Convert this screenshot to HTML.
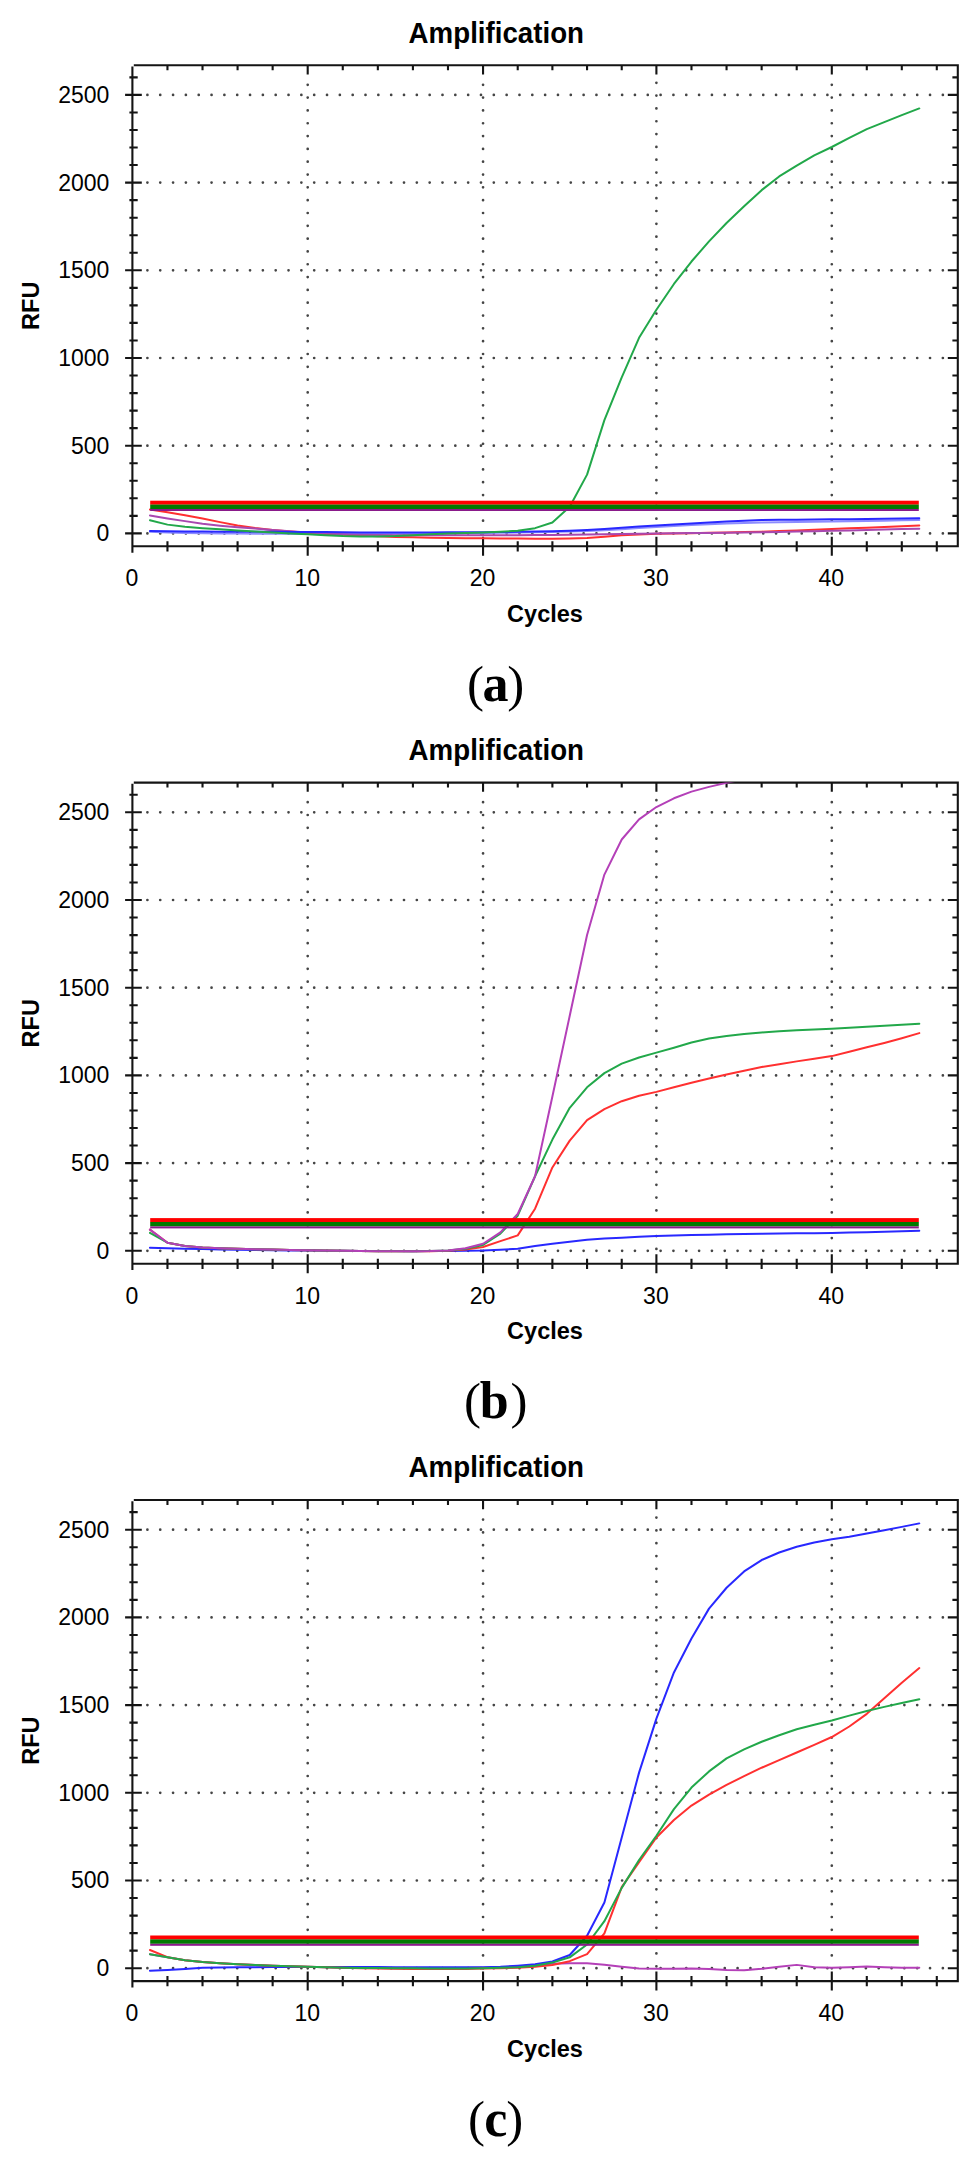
<!DOCTYPE html>
<html><head><meta charset="utf-8"><style>
html,body{margin:0;padding:0;background:#fff;}
svg{display:block;font-family:"Liberation Sans",sans-serif;}
</style></head><body>
<svg width="974" height="2164" viewBox="0 0 974 2164">
<defs><clipPath id="clip0"><rect x="132.4" y="65.2" width="825.4" height="481.09999999999997"/></clipPath><clipPath id="clip1"><rect x="132.4" y="782.6" width="825.4" height="481.09999999999997"/></clipPath><clipPath id="clip2"><rect x="132.4" y="1500.0" width="825.4" height="481.09999999999997"/></clipPath></defs>
<rect width="974" height="2164" fill="#fff"/>
<g>
<text x="408.6" y="42.6" font-weight="bold" font-size="29.6" textLength="175.4" lengthAdjust="spacingAndGlyphs">Amplification</text>
<text transform="translate(39.3,305.8) rotate(-90)" text-anchor="middle" font-weight="bold" font-size="23.6">RFU</text>
<text x="545" y="621.8" text-anchor="middle" font-weight="bold" font-size="23.5">Cycles</text>
<text x="109.3" y="541.3" text-anchor="end" font-size="23">0</text>
<text x="109.3" y="453.6" text-anchor="end" font-size="23">500</text>
<text x="109.3" y="365.9" text-anchor="end" font-size="23">1000</text>
<text x="109.3" y="278.2" text-anchor="end" font-size="23">1500</text>
<text x="109.3" y="190.5" text-anchor="end" font-size="23">2000</text>
<text x="109.3" y="102.8" text-anchor="end" font-size="23">2500</text>
<text x="131.9" y="586.2" text-anchor="middle" font-size="23">0</text>
<text x="307.2" y="586.2" text-anchor="middle" font-size="23">10</text>
<text x="482.6" y="586.2" text-anchor="middle" font-size="23">20</text>
<text x="655.9" y="586.2" text-anchor="middle" font-size="23">30</text>
<text x="831.3" y="586.2" text-anchor="middle" font-size="23">40</text>
<path d="M147.40 533.40h0.01M160.23 533.40h0.01M173.06 533.40h0.01M185.89 533.40h0.01M198.72 533.40h0.01M211.55 533.40h0.01M224.38 533.40h0.01M237.21 533.40h0.01M250.04 533.40h0.01M262.87 533.40h0.01M275.70 533.40h0.01M288.53 533.40h0.01M301.36 533.40h0.01M314.19 533.40h0.01M327.02 533.40h0.01M339.85 533.40h0.01M352.68 533.40h0.01M365.51 533.40h0.01M378.34 533.40h0.01M391.17 533.40h0.01M404.00 533.40h0.01M416.83 533.40h0.01M429.66 533.40h0.01M442.49 533.40h0.01M455.32 533.40h0.01M468.15 533.40h0.01M480.98 533.40h0.01M493.81 533.40h0.01M506.64 533.40h0.01M519.47 533.40h0.01M532.30 533.40h0.01M545.13 533.40h0.01M557.96 533.40h0.01M570.79 533.40h0.01M583.62 533.40h0.01M596.45 533.40h0.01M609.28 533.40h0.01M622.11 533.40h0.01M634.94 533.40h0.01M647.77 533.40h0.01M660.60 533.40h0.01M673.43 533.40h0.01M686.26 533.40h0.01M699.09 533.40h0.01M711.92 533.40h0.01M724.75 533.40h0.01M737.58 533.40h0.01M750.41 533.40h0.01M763.24 533.40h0.01M776.07 533.40h0.01M788.90 533.40h0.01M801.73 533.40h0.01M814.56 533.40h0.01M827.39 533.40h0.01M840.22 533.40h0.01M853.05 533.40h0.01M865.88 533.40h0.01M878.71 533.40h0.01M891.54 533.40h0.01M904.37 533.40h0.01M917.20 533.40h0.01M930.03 533.40h0.01M942.86 533.40h0.01M147.40 445.70h0.01M160.23 445.70h0.01M173.06 445.70h0.01M185.89 445.70h0.01M198.72 445.70h0.01M211.55 445.70h0.01M224.38 445.70h0.01M237.21 445.70h0.01M250.04 445.70h0.01M262.87 445.70h0.01M275.70 445.70h0.01M288.53 445.70h0.01M301.36 445.70h0.01M314.19 445.70h0.01M327.02 445.70h0.01M339.85 445.70h0.01M352.68 445.70h0.01M365.51 445.70h0.01M378.34 445.70h0.01M391.17 445.70h0.01M404.00 445.70h0.01M416.83 445.70h0.01M429.66 445.70h0.01M442.49 445.70h0.01M455.32 445.70h0.01M468.15 445.70h0.01M480.98 445.70h0.01M493.81 445.70h0.01M506.64 445.70h0.01M519.47 445.70h0.01M532.30 445.70h0.01M545.13 445.70h0.01M557.96 445.70h0.01M570.79 445.70h0.01M583.62 445.70h0.01M596.45 445.70h0.01M609.28 445.70h0.01M622.11 445.70h0.01M634.94 445.70h0.01M647.77 445.70h0.01M660.60 445.70h0.01M673.43 445.70h0.01M686.26 445.70h0.01M699.09 445.70h0.01M711.92 445.70h0.01M724.75 445.70h0.01M737.58 445.70h0.01M750.41 445.70h0.01M763.24 445.70h0.01M776.07 445.70h0.01M788.90 445.70h0.01M801.73 445.70h0.01M814.56 445.70h0.01M827.39 445.70h0.01M840.22 445.70h0.01M853.05 445.70h0.01M865.88 445.70h0.01M878.71 445.70h0.01M891.54 445.70h0.01M904.37 445.70h0.01M917.20 445.70h0.01M930.03 445.70h0.01M942.86 445.70h0.01M147.40 358.00h0.01M160.23 358.00h0.01M173.06 358.00h0.01M185.89 358.00h0.01M198.72 358.00h0.01M211.55 358.00h0.01M224.38 358.00h0.01M237.21 358.00h0.01M250.04 358.00h0.01M262.87 358.00h0.01M275.70 358.00h0.01M288.53 358.00h0.01M301.36 358.00h0.01M314.19 358.00h0.01M327.02 358.00h0.01M339.85 358.00h0.01M352.68 358.00h0.01M365.51 358.00h0.01M378.34 358.00h0.01M391.17 358.00h0.01M404.00 358.00h0.01M416.83 358.00h0.01M429.66 358.00h0.01M442.49 358.00h0.01M455.32 358.00h0.01M468.15 358.00h0.01M480.98 358.00h0.01M493.81 358.00h0.01M506.64 358.00h0.01M519.47 358.00h0.01M532.30 358.00h0.01M545.13 358.00h0.01M557.96 358.00h0.01M570.79 358.00h0.01M583.62 358.00h0.01M596.45 358.00h0.01M609.28 358.00h0.01M622.11 358.00h0.01M634.94 358.00h0.01M647.77 358.00h0.01M660.60 358.00h0.01M673.43 358.00h0.01M686.26 358.00h0.01M699.09 358.00h0.01M711.92 358.00h0.01M724.75 358.00h0.01M737.58 358.00h0.01M750.41 358.00h0.01M763.24 358.00h0.01M776.07 358.00h0.01M788.90 358.00h0.01M801.73 358.00h0.01M814.56 358.00h0.01M827.39 358.00h0.01M840.22 358.00h0.01M853.05 358.00h0.01M865.88 358.00h0.01M878.71 358.00h0.01M891.54 358.00h0.01M904.37 358.00h0.01M917.20 358.00h0.01M930.03 358.00h0.01M942.86 358.00h0.01M147.40 270.30h0.01M160.23 270.30h0.01M173.06 270.30h0.01M185.89 270.30h0.01M198.72 270.30h0.01M211.55 270.30h0.01M224.38 270.30h0.01M237.21 270.30h0.01M250.04 270.30h0.01M262.87 270.30h0.01M275.70 270.30h0.01M288.53 270.30h0.01M301.36 270.30h0.01M314.19 270.30h0.01M327.02 270.30h0.01M339.85 270.30h0.01M352.68 270.30h0.01M365.51 270.30h0.01M378.34 270.30h0.01M391.17 270.30h0.01M404.00 270.30h0.01M416.83 270.30h0.01M429.66 270.30h0.01M442.49 270.30h0.01M455.32 270.30h0.01M468.15 270.30h0.01M480.98 270.30h0.01M493.81 270.30h0.01M506.64 270.30h0.01M519.47 270.30h0.01M532.30 270.30h0.01M545.13 270.30h0.01M557.96 270.30h0.01M570.79 270.30h0.01M583.62 270.30h0.01M596.45 270.30h0.01M609.28 270.30h0.01M622.11 270.30h0.01M634.94 270.30h0.01M647.77 270.30h0.01M660.60 270.30h0.01M673.43 270.30h0.01M686.26 270.30h0.01M699.09 270.30h0.01M711.92 270.30h0.01M724.75 270.30h0.01M737.58 270.30h0.01M750.41 270.30h0.01M763.24 270.30h0.01M776.07 270.30h0.01M788.90 270.30h0.01M801.73 270.30h0.01M814.56 270.30h0.01M827.39 270.30h0.01M840.22 270.30h0.01M853.05 270.30h0.01M865.88 270.30h0.01M878.71 270.30h0.01M891.54 270.30h0.01M904.37 270.30h0.01M917.20 270.30h0.01M930.03 270.30h0.01M942.86 270.30h0.01M147.40 182.60h0.01M160.23 182.60h0.01M173.06 182.60h0.01M185.89 182.60h0.01M198.72 182.60h0.01M211.55 182.60h0.01M224.38 182.60h0.01M237.21 182.60h0.01M250.04 182.60h0.01M262.87 182.60h0.01M275.70 182.60h0.01M288.53 182.60h0.01M301.36 182.60h0.01M314.19 182.60h0.01M327.02 182.60h0.01M339.85 182.60h0.01M352.68 182.60h0.01M365.51 182.60h0.01M378.34 182.60h0.01M391.17 182.60h0.01M404.00 182.60h0.01M416.83 182.60h0.01M429.66 182.60h0.01M442.49 182.60h0.01M455.32 182.60h0.01M468.15 182.60h0.01M480.98 182.60h0.01M493.81 182.60h0.01M506.64 182.60h0.01M519.47 182.60h0.01M532.30 182.60h0.01M545.13 182.60h0.01M557.96 182.60h0.01M570.79 182.60h0.01M583.62 182.60h0.01M596.45 182.60h0.01M609.28 182.60h0.01M622.11 182.60h0.01M634.94 182.60h0.01M647.77 182.60h0.01M660.60 182.60h0.01M673.43 182.60h0.01M686.26 182.60h0.01M699.09 182.60h0.01M711.92 182.60h0.01M724.75 182.60h0.01M737.58 182.60h0.01M750.41 182.60h0.01M763.24 182.60h0.01M776.07 182.60h0.01M788.90 182.60h0.01M801.73 182.60h0.01M814.56 182.60h0.01M827.39 182.60h0.01M840.22 182.60h0.01M853.05 182.60h0.01M865.88 182.60h0.01M878.71 182.60h0.01M891.54 182.60h0.01M904.37 182.60h0.01M917.20 182.60h0.01M930.03 182.60h0.01M942.86 182.60h0.01M147.40 94.90h0.01M160.23 94.90h0.01M173.06 94.90h0.01M185.89 94.90h0.01M198.72 94.90h0.01M211.55 94.90h0.01M224.38 94.90h0.01M237.21 94.90h0.01M250.04 94.90h0.01M262.87 94.90h0.01M275.70 94.90h0.01M288.53 94.90h0.01M301.36 94.90h0.01M314.19 94.90h0.01M327.02 94.90h0.01M339.85 94.90h0.01M352.68 94.90h0.01M365.51 94.90h0.01M378.34 94.90h0.01M391.17 94.90h0.01M404.00 94.90h0.01M416.83 94.90h0.01M429.66 94.90h0.01M442.49 94.90h0.01M455.32 94.90h0.01M468.15 94.90h0.01M480.98 94.90h0.01M493.81 94.90h0.01M506.64 94.90h0.01M519.47 94.90h0.01M532.30 94.90h0.01M545.13 94.90h0.01M557.96 94.90h0.01M570.79 94.90h0.01M583.62 94.90h0.01M596.45 94.90h0.01M609.28 94.90h0.01M622.11 94.90h0.01M634.94 94.90h0.01M647.77 94.90h0.01M660.60 94.90h0.01M673.43 94.90h0.01M686.26 94.90h0.01M699.09 94.90h0.01M711.92 94.90h0.01M724.75 94.90h0.01M737.58 94.90h0.01M750.41 94.90h0.01M763.24 94.90h0.01M776.07 94.90h0.01M788.90 94.90h0.01M801.73 94.90h0.01M814.56 94.90h0.01M827.39 94.90h0.01M840.22 94.90h0.01M853.05 94.90h0.01M865.88 94.90h0.01M878.71 94.90h0.01M891.54 94.90h0.01M904.37 94.90h0.01M917.20 94.90h0.01M930.03 94.90h0.01M942.86 94.90h0.01M307.70 533.48v0.01M307.70 520.66v0.01M307.70 507.84v0.01M307.70 495.02v0.01M307.70 482.20v0.01M307.70 469.38v0.01M307.70 456.56v0.01M307.70 443.74v0.01M307.70 430.92v0.01M307.70 418.10v0.01M307.70 405.28v0.01M307.70 392.46v0.01M307.70 379.64v0.01M307.70 366.82v0.01M307.70 354.00v0.01M307.70 341.18v0.01M307.70 328.36v0.01M307.70 315.54v0.01M307.70 302.72v0.01M307.70 289.90v0.01M307.70 277.08v0.01M307.70 264.26v0.01M307.70 251.44v0.01M307.70 238.62v0.01M307.70 225.80v0.01M307.70 212.98v0.01M307.70 200.16v0.01M307.70 187.34v0.01M307.70 174.52v0.01M307.70 161.70v0.01M307.70 148.88v0.01M307.70 136.06v0.01M307.70 123.24v0.01M307.70 110.42v0.01M307.70 97.60v0.01M307.70 84.78v0.01M483.05 533.48v0.01M483.05 520.66v0.01M483.05 507.84v0.01M483.05 495.02v0.01M483.05 482.20v0.01M483.05 469.38v0.01M483.05 456.56v0.01M483.05 443.74v0.01M483.05 430.92v0.01M483.05 418.10v0.01M483.05 405.28v0.01M483.05 392.46v0.01M483.05 379.64v0.01M483.05 366.82v0.01M483.05 354.00v0.01M483.05 341.18v0.01M483.05 328.36v0.01M483.05 315.54v0.01M483.05 302.72v0.01M483.05 289.90v0.01M483.05 277.08v0.01M483.05 264.26v0.01M483.05 251.44v0.01M483.05 238.62v0.01M483.05 225.80v0.01M483.05 212.98v0.01M483.05 200.16v0.01M483.05 187.34v0.01M483.05 174.52v0.01M483.05 161.70v0.01M483.05 148.88v0.01M483.05 136.06v0.01M483.05 123.24v0.01M483.05 110.42v0.01M483.05 97.60v0.01M483.05 84.78v0.01M656.40 531.48v0.01M656.40 518.66v0.01M656.40 505.84v0.01M656.40 493.02v0.01M656.40 480.20v0.01M656.40 467.38v0.01M656.40 454.56v0.01M656.40 441.74v0.01M656.40 428.92v0.01M656.40 416.10v0.01M656.40 403.28v0.01M656.40 390.46v0.01M656.40 377.64v0.01M656.40 364.82v0.01M656.40 352.00v0.01M656.40 339.18v0.01M656.40 326.36v0.01M656.40 313.54v0.01M656.40 300.72v0.01M656.40 287.90v0.01M656.40 275.08v0.01M656.40 262.26v0.01M656.40 249.44v0.01M656.40 236.62v0.01M656.40 223.80v0.01M656.40 210.98v0.01M656.40 198.16v0.01M656.40 185.34v0.01M656.40 172.52v0.01M656.40 159.70v0.01M656.40 146.88v0.01M656.40 134.06v0.01M656.40 121.24v0.01M656.40 108.42v0.01M656.40 95.60v0.01M656.40 82.78v0.01M831.80 533.48v0.01M831.80 520.66v0.01M831.80 507.84v0.01M831.80 495.02v0.01M831.80 482.20v0.01M831.80 469.38v0.01M831.80 456.56v0.01M831.80 443.74v0.01M831.80 430.92v0.01M831.80 418.10v0.01M831.80 405.28v0.01M831.80 392.46v0.01M831.80 379.64v0.01M831.80 366.82v0.01M831.80 354.00v0.01M831.80 341.18v0.01M831.80 328.36v0.01M831.80 315.54v0.01M831.80 302.72v0.01M831.80 289.90v0.01M831.80 277.08v0.01M831.80 264.26v0.01M831.80 251.44v0.01M831.80 238.62v0.01M831.80 225.80v0.01M831.80 212.98v0.01M831.80 200.16v0.01M831.80 187.34v0.01M831.80 174.52v0.01M831.80 161.70v0.01M831.80 148.88v0.01M831.80 136.06v0.01M831.80 123.24v0.01M831.80 110.42v0.01M831.80 97.60v0.01M831.80 84.78v0.01" stroke="#454545" stroke-width="2.7" stroke-linecap="round" fill="none"/>
<path d="M125.10 533.40H141.80M947.80 533.40H957.80M129.40 515.86H137.70M952.40 515.86H957.80M129.40 498.32H137.70M952.40 498.32H957.80M129.40 480.78H137.70M952.40 480.78H957.80M129.40 463.24H137.70M952.40 463.24H957.80M125.10 445.70H141.80M947.80 445.70H957.80M129.40 428.16H137.70M952.40 428.16H957.80M129.40 410.62H137.70M952.40 410.62H957.80M129.40 393.08H137.70M952.40 393.08H957.80M129.40 375.54H137.70M952.40 375.54H957.80M125.10 358.00H141.80M947.80 358.00H957.80M129.40 340.46H137.70M952.40 340.46H957.80M129.40 322.92H137.70M952.40 322.92H957.80M129.40 305.38H137.70M952.40 305.38H957.80M129.40 287.84H137.70M952.40 287.84H957.80M125.10 270.30H141.80M947.80 270.30H957.80M129.40 252.76H137.70M952.40 252.76H957.80M129.40 235.22H137.70M952.40 235.22H957.80M129.40 217.68H137.70M952.40 217.68H957.80M129.40 200.14H137.70M952.40 200.14H957.80M125.10 182.60H141.80M947.80 182.60H957.80M129.40 165.06H137.70M952.40 165.06H957.80M129.40 147.52H137.70M952.40 147.52H957.80M129.40 129.98H137.70M952.40 129.98H957.80M129.40 112.44H137.70M952.40 112.44H957.80M125.10 94.90H141.80M947.80 94.90H957.80M129.40 77.36H137.70M952.40 77.36H957.80M167.46 541.30V551.50M167.46 65.20V70.20M202.52 541.30V551.50M202.52 65.20V70.20M237.58 541.30V551.50M237.58 65.20V70.20M272.64 541.30V551.50M272.64 65.20V70.20M307.70 536.80V555.80M307.70 65.20V74.40M342.77 541.30V551.50M342.77 65.20V70.20M377.84 541.30V551.50M377.84 65.20V70.20M412.91 541.30V551.50M412.91 65.20V70.20M447.98 541.30V551.50M447.98 65.20V70.20M483.05 536.80V555.80M483.05 65.20V74.40M517.72 541.30V551.50M517.72 65.20V70.20M552.39 541.30V551.50M552.39 65.20V70.20M587.06 541.30V551.50M587.06 65.20V70.20M621.73 541.30V551.50M621.73 65.20V70.20M656.40 536.80V555.80M656.40 65.20V74.40M691.48 541.30V551.50M691.48 65.20V70.20M726.56 541.30V551.50M726.56 65.20V70.20M761.64 541.30V551.50M761.64 65.20V70.20M796.72 541.30V551.50M796.72 65.20V70.20M831.80 536.80V555.80M831.80 65.20V74.40M866.80 541.30V551.50M866.80 65.20V70.20M901.80 541.30V551.50M901.80 65.20V70.20M936.80 541.30V551.50M936.80 65.20V70.20M132.40 66.40V552.70M133.80 65.20H957.80V546.30H132.40" stroke="#141414" stroke-width="2.1" fill="none"/>
<g clip-path="url(#clip0)">
<polyline points="149.93,531.65 167.46,532.50 184.99,533.05 202.52,533.28 220.05,533.45 237.58,533.58 255.11,533.68 272.64,533.75 290.17,533.82 307.70,533.87 325.24,533.91 342.77,533.93 360.31,533.91 377.84,533.87 395.38,533.82 412.91,533.75 430.45,533.64 447.98,533.47 465.51,533.26 483.05,533.05 500.38,532.83 517.72,532.60 535.06,532.33 552.39,532.00 569.73,531.54 587.06,530.94 604.39,530.15 621.73,529.16 639.06,528.10 656.40,527.09 673.94,526.10 691.48,525.12 709.02,524.28 726.56,523.59 744.10,522.98 761.64,522.53 779.18,522.20 796.72,521.95 814.26,521.72 831.80,521.47 849.30,521.20 866.80,520.92 884.30,520.64 901.80,520.36 919.30,520.07" fill="none" stroke="#8c8cff" stroke-width="2.0" stroke-linejoin="round" stroke-linecap="round" opacity="1.0"/>
<polyline points="149.93,509.55 167.46,512.35 184.99,515.33 202.52,518.49 220.05,522.14 237.58,525.51 255.11,527.93 272.64,529.89 290.17,531.53 307.70,532.87 325.24,533.93 342.77,534.80 360.31,535.61 377.84,536.34 395.38,536.91 412.91,537.34 430.45,537.69 447.98,537.96 465.51,538.16 483.05,538.31 500.38,538.43 517.72,538.55 535.06,538.63 552.39,538.66 569.73,538.45 587.06,537.96 604.39,536.75 621.73,535.33 639.06,534.40 656.40,533.75 673.94,533.40 691.48,533.15 709.02,532.87 726.56,532.51 744.10,532.11 761.64,531.65 779.18,531.08 796.72,530.42 814.26,529.71 831.80,529.01 849.30,528.33 866.80,527.64 884.30,526.94 901.80,526.23 919.30,525.51" fill="none" stroke="#ff3030" stroke-width="2.0" stroke-linejoin="round" stroke-linecap="round" opacity="1.0"/>
<polyline points="149.93,515.51 167.46,518.49 184.99,521.12 202.52,523.75 220.05,525.67 237.58,527.26 255.11,528.62 272.64,529.89 290.17,531.27 307.70,532.52 325.24,533.55 342.77,534.28 360.31,534.69 377.84,535.00 395.38,535.15 412.91,535.22 430.45,535.26 447.98,535.30 465.51,535.32 483.05,535.33 500.38,535.30 517.72,535.22 535.06,535.10 552.39,534.96 569.73,534.80 587.06,534.57 604.39,534.24 621.73,533.93 639.06,533.65 656.40,533.40 673.94,533.21 691.48,533.05 709.02,532.90 726.56,532.73 744.10,532.52 761.64,532.25 779.18,531.92 796.72,531.55 814.26,531.16 831.80,530.77 849.30,530.38 866.80,529.97 884.30,529.55 901.80,529.11 919.30,528.66" fill="none" stroke="#a848b0" stroke-width="2.0" stroke-linejoin="round" stroke-linecap="round" opacity="1.0"/>
<polyline points="149.93,530.94 167.46,531.25 184.99,531.47 202.52,531.58 220.05,531.67 237.58,531.74 255.11,531.80 272.64,531.86 290.17,531.92 307.70,532.00 325.24,532.11 342.77,532.25 360.31,532.38 377.84,532.48 395.38,532.52 412.91,532.50 430.45,532.45 447.98,532.37 465.51,532.28 483.05,532.17 500.38,532.04 517.72,531.86 535.06,531.61 552.39,531.30 569.73,530.71 587.06,529.89 604.39,528.93 621.73,527.80 639.06,526.62 656.40,525.51 673.94,524.47 691.48,523.47 709.02,522.53 726.56,521.56 744.10,520.64 761.64,520.07 779.18,519.83 796.72,519.67 814.26,519.53 831.80,519.37 849.30,519.17 866.80,518.97 884.30,518.76 901.80,518.54 919.30,518.32" fill="none" stroke="#2828ff" stroke-width="2.0" stroke-linejoin="round" stroke-linecap="round" opacity="1.0"/>
<polyline points="149.93,520.25 167.46,524.63 184.99,526.73 202.52,528.14 220.05,529.32 237.58,530.42 255.11,531.51 272.64,532.52 290.17,533.42 307.70,534.28 325.24,535.27 342.77,536.03 360.31,536.40 377.84,536.56 395.38,536.05 412.91,535.15 430.45,534.23 447.98,533.40 465.51,532.95 483.05,532.52 500.38,531.82 517.72,530.77 535.06,528.14 552.39,522.53 569.73,506.74 587.06,474.64 604.39,420.09 621.73,377.29 639.06,337.83 656.40,309.76 673.94,283.98 691.48,261.53 709.02,241.36 726.56,222.94 744.10,206.28 761.64,190.14 779.18,176.46 796.72,165.59 814.26,155.41 831.80,146.99 849.30,137.87 866.80,129.10 884.30,122.09 901.80,115.07 919.30,108.41" fill="none" stroke="#22a84a" stroke-width="2.0" stroke-linejoin="round" stroke-linecap="round" opacity="1.0"/>
</g>
<rect x="150.2" y="500.70" width="768.6" height="4" fill="#ff0000"/>
<rect x="150.2" y="504.60" width="768.6" height="4.4" fill="#007a00"/>
<rect x="150.2" y="509.00" width="768.6" height="2" fill="#8a1a8a"/>
<text x="467.0" y="700.9" font-family="Liberation Serif" font-size="51">(</text>
<text x="482.4" y="700.9" font-family="Liberation Serif" font-weight="bold" font-size="52">a</text>
<text x="507.2" y="700.9" font-family="Liberation Serif" font-size="51">)</text>
</g>
<g>
<text x="408.6" y="760.0" font-weight="bold" font-size="29.6" textLength="175.4" lengthAdjust="spacingAndGlyphs">Amplification</text>
<text transform="translate(39.3,1023.2) rotate(-90)" text-anchor="middle" font-weight="bold" font-size="23.6">RFU</text>
<text x="545" y="1339.2" text-anchor="middle" font-weight="bold" font-size="23.5">Cycles</text>
<text x="109.3" y="1258.7" text-anchor="end" font-size="23">0</text>
<text x="109.3" y="1171.0" text-anchor="end" font-size="23">500</text>
<text x="109.3" y="1083.3" text-anchor="end" font-size="23">1000</text>
<text x="109.3" y="995.6" text-anchor="end" font-size="23">1500</text>
<text x="109.3" y="907.9" text-anchor="end" font-size="23">2000</text>
<text x="109.3" y="820.2" text-anchor="end" font-size="23">2500</text>
<text x="131.9" y="1303.6" text-anchor="middle" font-size="23">0</text>
<text x="307.2" y="1303.6" text-anchor="middle" font-size="23">10</text>
<text x="482.6" y="1303.6" text-anchor="middle" font-size="23">20</text>
<text x="655.9" y="1303.6" text-anchor="middle" font-size="23">30</text>
<text x="831.3" y="1303.6" text-anchor="middle" font-size="23">40</text>
<path d="M147.40 1250.80h0.01M160.23 1250.80h0.01M173.06 1250.80h0.01M185.89 1250.80h0.01M198.72 1250.80h0.01M211.55 1250.80h0.01M224.38 1250.80h0.01M237.21 1250.80h0.01M250.04 1250.80h0.01M262.87 1250.80h0.01M275.70 1250.80h0.01M288.53 1250.80h0.01M301.36 1250.80h0.01M314.19 1250.80h0.01M327.02 1250.80h0.01M339.85 1250.80h0.01M352.68 1250.80h0.01M365.51 1250.80h0.01M378.34 1250.80h0.01M391.17 1250.80h0.01M404.00 1250.80h0.01M416.83 1250.80h0.01M429.66 1250.80h0.01M442.49 1250.80h0.01M455.32 1250.80h0.01M468.15 1250.80h0.01M480.98 1250.80h0.01M493.81 1250.80h0.01M506.64 1250.80h0.01M519.47 1250.80h0.01M532.30 1250.80h0.01M545.13 1250.80h0.01M557.96 1250.80h0.01M570.79 1250.80h0.01M583.62 1250.80h0.01M596.45 1250.80h0.01M609.28 1250.80h0.01M622.11 1250.80h0.01M634.94 1250.80h0.01M647.77 1250.80h0.01M660.60 1250.80h0.01M673.43 1250.80h0.01M686.26 1250.80h0.01M699.09 1250.80h0.01M711.92 1250.80h0.01M724.75 1250.80h0.01M737.58 1250.80h0.01M750.41 1250.80h0.01M763.24 1250.80h0.01M776.07 1250.80h0.01M788.90 1250.80h0.01M801.73 1250.80h0.01M814.56 1250.80h0.01M827.39 1250.80h0.01M840.22 1250.80h0.01M853.05 1250.80h0.01M865.88 1250.80h0.01M878.71 1250.80h0.01M891.54 1250.80h0.01M904.37 1250.80h0.01M917.20 1250.80h0.01M930.03 1250.80h0.01M942.86 1250.80h0.01M147.40 1163.10h0.01M160.23 1163.10h0.01M173.06 1163.10h0.01M185.89 1163.10h0.01M198.72 1163.10h0.01M211.55 1163.10h0.01M224.38 1163.10h0.01M237.21 1163.10h0.01M250.04 1163.10h0.01M262.87 1163.10h0.01M275.70 1163.10h0.01M288.53 1163.10h0.01M301.36 1163.10h0.01M314.19 1163.10h0.01M327.02 1163.10h0.01M339.85 1163.10h0.01M352.68 1163.10h0.01M365.51 1163.10h0.01M378.34 1163.10h0.01M391.17 1163.10h0.01M404.00 1163.10h0.01M416.83 1163.10h0.01M429.66 1163.10h0.01M442.49 1163.10h0.01M455.32 1163.10h0.01M468.15 1163.10h0.01M480.98 1163.10h0.01M493.81 1163.10h0.01M506.64 1163.10h0.01M519.47 1163.10h0.01M532.30 1163.10h0.01M545.13 1163.10h0.01M557.96 1163.10h0.01M570.79 1163.10h0.01M583.62 1163.10h0.01M596.45 1163.10h0.01M609.28 1163.10h0.01M622.11 1163.10h0.01M634.94 1163.10h0.01M647.77 1163.10h0.01M660.60 1163.10h0.01M673.43 1163.10h0.01M686.26 1163.10h0.01M699.09 1163.10h0.01M711.92 1163.10h0.01M724.75 1163.10h0.01M737.58 1163.10h0.01M750.41 1163.10h0.01M763.24 1163.10h0.01M776.07 1163.10h0.01M788.90 1163.10h0.01M801.73 1163.10h0.01M814.56 1163.10h0.01M827.39 1163.10h0.01M840.22 1163.10h0.01M853.05 1163.10h0.01M865.88 1163.10h0.01M878.71 1163.10h0.01M891.54 1163.10h0.01M904.37 1163.10h0.01M917.20 1163.10h0.01M930.03 1163.10h0.01M942.86 1163.10h0.01M147.40 1075.40h0.01M160.23 1075.40h0.01M173.06 1075.40h0.01M185.89 1075.40h0.01M198.72 1075.40h0.01M211.55 1075.40h0.01M224.38 1075.40h0.01M237.21 1075.40h0.01M250.04 1075.40h0.01M262.87 1075.40h0.01M275.70 1075.40h0.01M288.53 1075.40h0.01M301.36 1075.40h0.01M314.19 1075.40h0.01M327.02 1075.40h0.01M339.85 1075.40h0.01M352.68 1075.40h0.01M365.51 1075.40h0.01M378.34 1075.40h0.01M391.17 1075.40h0.01M404.00 1075.40h0.01M416.83 1075.40h0.01M429.66 1075.40h0.01M442.49 1075.40h0.01M455.32 1075.40h0.01M468.15 1075.40h0.01M480.98 1075.40h0.01M493.81 1075.40h0.01M506.64 1075.40h0.01M519.47 1075.40h0.01M532.30 1075.40h0.01M545.13 1075.40h0.01M557.96 1075.40h0.01M570.79 1075.40h0.01M583.62 1075.40h0.01M596.45 1075.40h0.01M609.28 1075.40h0.01M622.11 1075.40h0.01M634.94 1075.40h0.01M647.77 1075.40h0.01M660.60 1075.40h0.01M673.43 1075.40h0.01M686.26 1075.40h0.01M699.09 1075.40h0.01M711.92 1075.40h0.01M724.75 1075.40h0.01M737.58 1075.40h0.01M750.41 1075.40h0.01M763.24 1075.40h0.01M776.07 1075.40h0.01M788.90 1075.40h0.01M801.73 1075.40h0.01M814.56 1075.40h0.01M827.39 1075.40h0.01M840.22 1075.40h0.01M853.05 1075.40h0.01M865.88 1075.40h0.01M878.71 1075.40h0.01M891.54 1075.40h0.01M904.37 1075.40h0.01M917.20 1075.40h0.01M930.03 1075.40h0.01M942.86 1075.40h0.01M147.40 987.70h0.01M160.23 987.70h0.01M173.06 987.70h0.01M185.89 987.70h0.01M198.72 987.70h0.01M211.55 987.70h0.01M224.38 987.70h0.01M237.21 987.70h0.01M250.04 987.70h0.01M262.87 987.70h0.01M275.70 987.70h0.01M288.53 987.70h0.01M301.36 987.70h0.01M314.19 987.70h0.01M327.02 987.70h0.01M339.85 987.70h0.01M352.68 987.70h0.01M365.51 987.70h0.01M378.34 987.70h0.01M391.17 987.70h0.01M404.00 987.70h0.01M416.83 987.70h0.01M429.66 987.70h0.01M442.49 987.70h0.01M455.32 987.70h0.01M468.15 987.70h0.01M480.98 987.70h0.01M493.81 987.70h0.01M506.64 987.70h0.01M519.47 987.70h0.01M532.30 987.70h0.01M545.13 987.70h0.01M557.96 987.70h0.01M570.79 987.70h0.01M583.62 987.70h0.01M596.45 987.70h0.01M609.28 987.70h0.01M622.11 987.70h0.01M634.94 987.70h0.01M647.77 987.70h0.01M660.60 987.70h0.01M673.43 987.70h0.01M686.26 987.70h0.01M699.09 987.70h0.01M711.92 987.70h0.01M724.75 987.70h0.01M737.58 987.70h0.01M750.41 987.70h0.01M763.24 987.70h0.01M776.07 987.70h0.01M788.90 987.70h0.01M801.73 987.70h0.01M814.56 987.70h0.01M827.39 987.70h0.01M840.22 987.70h0.01M853.05 987.70h0.01M865.88 987.70h0.01M878.71 987.70h0.01M891.54 987.70h0.01M904.37 987.70h0.01M917.20 987.70h0.01M930.03 987.70h0.01M942.86 987.70h0.01M147.40 900.00h0.01M160.23 900.00h0.01M173.06 900.00h0.01M185.89 900.00h0.01M198.72 900.00h0.01M211.55 900.00h0.01M224.38 900.00h0.01M237.21 900.00h0.01M250.04 900.00h0.01M262.87 900.00h0.01M275.70 900.00h0.01M288.53 900.00h0.01M301.36 900.00h0.01M314.19 900.00h0.01M327.02 900.00h0.01M339.85 900.00h0.01M352.68 900.00h0.01M365.51 900.00h0.01M378.34 900.00h0.01M391.17 900.00h0.01M404.00 900.00h0.01M416.83 900.00h0.01M429.66 900.00h0.01M442.49 900.00h0.01M455.32 900.00h0.01M468.15 900.00h0.01M480.98 900.00h0.01M493.81 900.00h0.01M506.64 900.00h0.01M519.47 900.00h0.01M532.30 900.00h0.01M545.13 900.00h0.01M557.96 900.00h0.01M570.79 900.00h0.01M583.62 900.00h0.01M596.45 900.00h0.01M609.28 900.00h0.01M622.11 900.00h0.01M634.94 900.00h0.01M647.77 900.00h0.01M660.60 900.00h0.01M673.43 900.00h0.01M686.26 900.00h0.01M699.09 900.00h0.01M711.92 900.00h0.01M724.75 900.00h0.01M737.58 900.00h0.01M750.41 900.00h0.01M763.24 900.00h0.01M776.07 900.00h0.01M788.90 900.00h0.01M801.73 900.00h0.01M814.56 900.00h0.01M827.39 900.00h0.01M840.22 900.00h0.01M853.05 900.00h0.01M865.88 900.00h0.01M878.71 900.00h0.01M891.54 900.00h0.01M904.37 900.00h0.01M917.20 900.00h0.01M930.03 900.00h0.01M942.86 900.00h0.01M147.40 812.30h0.01M160.23 812.30h0.01M173.06 812.30h0.01M185.89 812.30h0.01M198.72 812.30h0.01M211.55 812.30h0.01M224.38 812.30h0.01M237.21 812.30h0.01M250.04 812.30h0.01M262.87 812.30h0.01M275.70 812.30h0.01M288.53 812.30h0.01M301.36 812.30h0.01M314.19 812.30h0.01M327.02 812.30h0.01M339.85 812.30h0.01M352.68 812.30h0.01M365.51 812.30h0.01M378.34 812.30h0.01M391.17 812.30h0.01M404.00 812.30h0.01M416.83 812.30h0.01M429.66 812.30h0.01M442.49 812.30h0.01M455.32 812.30h0.01M468.15 812.30h0.01M480.98 812.30h0.01M493.81 812.30h0.01M506.64 812.30h0.01M519.47 812.30h0.01M532.30 812.30h0.01M545.13 812.30h0.01M557.96 812.30h0.01M570.79 812.30h0.01M583.62 812.30h0.01M596.45 812.30h0.01M609.28 812.30h0.01M622.11 812.30h0.01M634.94 812.30h0.01M647.77 812.30h0.01M660.60 812.30h0.01M673.43 812.30h0.01M686.26 812.30h0.01M699.09 812.30h0.01M711.92 812.30h0.01M724.75 812.30h0.01M737.58 812.30h0.01M750.41 812.30h0.01M763.24 812.30h0.01M776.07 812.30h0.01M788.90 812.30h0.01M801.73 812.30h0.01M814.56 812.30h0.01M827.39 812.30h0.01M840.22 812.30h0.01M853.05 812.30h0.01M865.88 812.30h0.01M878.71 812.30h0.01M891.54 812.30h0.01M904.37 812.30h0.01M917.20 812.30h0.01M930.03 812.30h0.01M942.86 812.30h0.01M307.70 1250.88v0.01M307.70 1238.06v0.01M307.70 1225.24v0.01M307.70 1212.42v0.01M307.70 1199.60v0.01M307.70 1186.78v0.01M307.70 1173.96v0.01M307.70 1161.14v0.01M307.70 1148.32v0.01M307.70 1135.50v0.01M307.70 1122.68v0.01M307.70 1109.86v0.01M307.70 1097.04v0.01M307.70 1084.22v0.01M307.70 1071.40v0.01M307.70 1058.58v0.01M307.70 1045.76v0.01M307.70 1032.94v0.01M307.70 1020.12v0.01M307.70 1007.30v0.01M307.70 994.48v0.01M307.70 981.66v0.01M307.70 968.84v0.01M307.70 956.02v0.01M307.70 943.20v0.01M307.70 930.38v0.01M307.70 917.56v0.01M307.70 904.74v0.01M307.70 891.92v0.01M307.70 879.10v0.01M307.70 866.28v0.01M307.70 853.46v0.01M307.70 840.64v0.01M307.70 827.82v0.01M307.70 815.00v0.01M307.70 802.18v0.01M483.05 1250.88v0.01M483.05 1238.06v0.01M483.05 1225.24v0.01M483.05 1212.42v0.01M483.05 1199.60v0.01M483.05 1186.78v0.01M483.05 1173.96v0.01M483.05 1161.14v0.01M483.05 1148.32v0.01M483.05 1135.50v0.01M483.05 1122.68v0.01M483.05 1109.86v0.01M483.05 1097.04v0.01M483.05 1084.22v0.01M483.05 1071.40v0.01M483.05 1058.58v0.01M483.05 1045.76v0.01M483.05 1032.94v0.01M483.05 1020.12v0.01M483.05 1007.30v0.01M483.05 994.48v0.01M483.05 981.66v0.01M483.05 968.84v0.01M483.05 956.02v0.01M483.05 943.20v0.01M483.05 930.38v0.01M483.05 917.56v0.01M483.05 904.74v0.01M483.05 891.92v0.01M483.05 879.10v0.01M483.05 866.28v0.01M483.05 853.46v0.01M483.05 840.64v0.01M483.05 827.82v0.01M483.05 815.00v0.01M483.05 802.18v0.01M656.40 1248.88v0.01M656.40 1236.06v0.01M656.40 1223.24v0.01M656.40 1210.42v0.01M656.40 1197.60v0.01M656.40 1184.78v0.01M656.40 1171.96v0.01M656.40 1159.14v0.01M656.40 1146.32v0.01M656.40 1133.50v0.01M656.40 1120.68v0.01M656.40 1107.86v0.01M656.40 1095.04v0.01M656.40 1082.22v0.01M656.40 1069.40v0.01M656.40 1056.58v0.01M656.40 1043.76v0.01M656.40 1030.94v0.01M656.40 1018.12v0.01M656.40 1005.30v0.01M656.40 992.48v0.01M656.40 979.66v0.01M656.40 966.84v0.01M656.40 954.02v0.01M656.40 941.20v0.01M656.40 928.38v0.01M656.40 915.56v0.01M656.40 902.74v0.01M656.40 889.92v0.01M656.40 877.10v0.01M656.40 864.28v0.01M656.40 851.46v0.01M656.40 838.64v0.01M656.40 825.82v0.01M656.40 813.00v0.01M656.40 800.18v0.01M831.80 1250.88v0.01M831.80 1238.06v0.01M831.80 1225.24v0.01M831.80 1212.42v0.01M831.80 1199.60v0.01M831.80 1186.78v0.01M831.80 1173.96v0.01M831.80 1161.14v0.01M831.80 1148.32v0.01M831.80 1135.50v0.01M831.80 1122.68v0.01M831.80 1109.86v0.01M831.80 1097.04v0.01M831.80 1084.22v0.01M831.80 1071.40v0.01M831.80 1058.58v0.01M831.80 1045.76v0.01M831.80 1032.94v0.01M831.80 1020.12v0.01M831.80 1007.30v0.01M831.80 994.48v0.01M831.80 981.66v0.01M831.80 968.84v0.01M831.80 956.02v0.01M831.80 943.20v0.01M831.80 930.38v0.01M831.80 917.56v0.01M831.80 904.74v0.01M831.80 891.92v0.01M831.80 879.10v0.01M831.80 866.28v0.01M831.80 853.46v0.01M831.80 840.64v0.01M831.80 827.82v0.01M831.80 815.00v0.01M831.80 802.18v0.01" stroke="#454545" stroke-width="2.7" stroke-linecap="round" fill="none"/>
<path d="M125.10 1250.80H141.80M947.80 1250.80H957.80M129.40 1233.26H137.70M952.40 1233.26H957.80M129.40 1215.72H137.70M952.40 1215.72H957.80M129.40 1198.18H137.70M952.40 1198.18H957.80M129.40 1180.64H137.70M952.40 1180.64H957.80M125.10 1163.10H141.80M947.80 1163.10H957.80M129.40 1145.56H137.70M952.40 1145.56H957.80M129.40 1128.02H137.70M952.40 1128.02H957.80M129.40 1110.48H137.70M952.40 1110.48H957.80M129.40 1092.94H137.70M952.40 1092.94H957.80M125.10 1075.40H141.80M947.80 1075.40H957.80M129.40 1057.86H137.70M952.40 1057.86H957.80M129.40 1040.32H137.70M952.40 1040.32H957.80M129.40 1022.78H137.70M952.40 1022.78H957.80M129.40 1005.24H137.70M952.40 1005.24H957.80M125.10 987.70H141.80M947.80 987.70H957.80M129.40 970.16H137.70M952.40 970.16H957.80M129.40 952.62H137.70M952.40 952.62H957.80M129.40 935.08H137.70M952.40 935.08H957.80M129.40 917.54H137.70M952.40 917.54H957.80M125.10 900.00H141.80M947.80 900.00H957.80M129.40 882.46H137.70M952.40 882.46H957.80M129.40 864.92H137.70M952.40 864.92H957.80M129.40 847.38H137.70M952.40 847.38H957.80M129.40 829.84H137.70M952.40 829.84H957.80M125.10 812.30H141.80M947.80 812.30H957.80M129.40 794.76H137.70M952.40 794.76H957.80M167.46 1258.70V1268.90M167.46 782.60V787.60M202.52 1258.70V1268.90M202.52 782.60V787.60M237.58 1258.70V1268.90M237.58 782.60V787.60M272.64 1258.70V1268.90M272.64 782.60V787.60M307.70 1254.20V1273.20M307.70 782.60V791.80M342.77 1258.70V1268.90M342.77 782.60V787.60M377.84 1258.70V1268.90M377.84 782.60V787.60M412.91 1258.70V1268.90M412.91 782.60V787.60M447.98 1258.70V1268.90M447.98 782.60V787.60M483.05 1254.20V1273.20M483.05 782.60V791.80M517.72 1258.70V1268.90M517.72 782.60V787.60M552.39 1258.70V1268.90M552.39 782.60V787.60M587.06 1258.70V1268.90M587.06 782.60V787.60M621.73 1258.70V1268.90M621.73 782.60V787.60M656.40 1254.20V1273.20M656.40 782.60V791.80M691.48 1258.70V1268.90M691.48 782.60V787.60M726.56 1258.70V1268.90M726.56 782.60V787.60M761.64 1258.70V1268.90M761.64 782.60V787.60M796.72 1258.70V1268.90M796.72 782.60V787.60M831.80 1254.20V1273.20M831.80 782.60V791.80M866.80 1258.70V1268.90M866.80 782.60V787.60M901.80 1258.70V1268.90M901.80 782.60V787.60M936.80 1258.70V1268.90M936.80 782.60V787.60M132.40 783.80V1270.10M133.80 782.60H957.80V1263.70H132.40" stroke="#141414" stroke-width="2.1" fill="none"/>
<g clip-path="url(#clip1)">
<polyline points="149.93,1247.64 167.46,1248.34 184.99,1248.73 202.52,1249.05 220.05,1249.39 237.58,1249.73 255.11,1250.04 272.64,1250.27 290.17,1250.44 307.70,1250.58 325.24,1250.69 342.77,1250.80 360.31,1250.91 377.84,1251.03 395.38,1251.12 412.91,1251.15 430.45,1251.10 447.98,1250.96 465.51,1250.74 483.05,1250.45 500.38,1249.75 517.72,1248.70 535.06,1245.89 552.39,1243.78 569.73,1241.68 587.06,1239.75 604.39,1238.58 621.73,1237.64 639.06,1236.67 656.40,1235.89 673.94,1235.39 691.48,1235.01 709.02,1234.66 726.56,1234.34 744.10,1234.05 761.64,1233.79 779.18,1233.56 796.72,1233.36 814.26,1233.16 831.80,1232.91 849.30,1232.59 866.80,1232.22 884.30,1231.79 901.80,1231.32 919.30,1230.80" fill="none" stroke="#2828ff" stroke-width="2.0" stroke-linejoin="round" stroke-linecap="round" opacity="1.0"/>
<polyline points="149.93,1229.58 167.46,1242.73 184.99,1246.06 202.52,1247.47 220.05,1248.18 237.58,1248.70 255.11,1249.16 272.64,1249.57 290.17,1249.95 307.70,1250.27 325.24,1250.56 342.77,1250.80 360.31,1251.00 377.84,1251.15 395.38,1251.27 412.91,1251.33 430.45,1251.18 447.98,1250.80 465.51,1249.40 483.05,1246.94 500.38,1241.15 517.72,1235.36 535.06,1208.70 552.39,1167.48 569.73,1140.65 587.06,1120.13 604.39,1109.08 621.73,1101.18 639.06,1095.75 656.40,1091.89 673.94,1087.33 691.48,1082.77 709.02,1078.56 726.56,1074.52 744.10,1070.66 761.64,1066.98 779.18,1064.35 796.72,1061.37 814.26,1058.74 831.80,1056.11 849.30,1051.72 866.80,1047.34 884.30,1042.95 901.80,1038.22 919.30,1033.13" fill="none" stroke="#ff3030" stroke-width="2.0" stroke-linejoin="round" stroke-linecap="round" opacity="1.0"/>
<polyline points="149.93,1232.91 167.46,1242.73 184.99,1246.06 202.52,1247.47 220.05,1248.18 237.58,1248.70 255.11,1249.16 272.64,1249.57 290.17,1249.95 307.70,1250.27 325.24,1250.56 342.77,1250.80 360.31,1251.00 377.84,1251.15 395.38,1251.27 412.91,1251.33 430.45,1251.08 447.98,1250.45 465.51,1248.70 483.05,1245.01 500.38,1233.61 517.72,1215.72 535.06,1176.25 552.39,1139.60 569.73,1107.85 587.06,1087.33 604.39,1073.12 621.73,1063.65 639.06,1057.51 656.40,1052.60 673.94,1047.69 691.48,1042.42 709.02,1038.57 726.56,1036.11 744.10,1034.01 761.64,1032.43 779.18,1031.37 796.72,1030.32 814.26,1029.45 831.80,1028.74 849.30,1027.87 866.80,1026.81 884.30,1025.76 901.80,1024.71 919.30,1023.66" fill="none" stroke="#22a84a" stroke-width="2.0" stroke-linejoin="round" stroke-linecap="round" opacity="1.0"/>
<polyline points="149.93,1229.58 167.46,1242.73 184.99,1246.06 202.52,1247.47 220.05,1248.18 237.58,1248.70 255.11,1249.16 272.64,1249.57 290.17,1249.95 307.70,1250.27 325.24,1250.56 342.77,1250.80 360.31,1251.00 377.84,1251.15 395.38,1251.27 412.91,1251.33 430.45,1251.09 447.98,1250.45 465.51,1248.17 483.05,1243.78 500.38,1232.38 517.72,1213.97 535.06,1176.25 552.39,1096.45 569.73,1015.76 587.06,935.08 604.39,874.57 621.73,839.49 639.06,819.32 656.40,807.04 673.94,798.27 691.48,791.60 709.02,786.87 726.56,782.83 744.10,778.97" fill="none" stroke="#b440b8" stroke-width="2.0" stroke-linejoin="round" stroke-linecap="round" opacity="1.0"/>
</g>
<rect x="150.2" y="1218.10" width="768.6" height="4" fill="#ff0000"/>
<rect x="150.2" y="1222.00" width="768.6" height="4.4" fill="#007a00"/>
<rect x="150.2" y="1226.40" width="768.6" height="2" fill="#8a1a8a"/>
<text x="464.1" y="1418.3" font-family="Liberation Serif" font-size="51">(</text>
<text x="479.8" y="1418.3" font-family="Liberation Serif" font-weight="bold" font-size="52">b</text>
<text x="510.5" y="1418.3" font-family="Liberation Serif" font-size="51">)</text>
</g>
<g>
<text x="408.6" y="1477.4" font-weight="bold" font-size="29.6" textLength="175.4" lengthAdjust="spacingAndGlyphs">Amplification</text>
<text transform="translate(39.3,1740.6) rotate(-90)" text-anchor="middle" font-weight="bold" font-size="23.6">RFU</text>
<text x="545" y="2056.6" text-anchor="middle" font-weight="bold" font-size="23.5">Cycles</text>
<text x="109.3" y="1976.1" text-anchor="end" font-size="23">0</text>
<text x="109.3" y="1888.4" text-anchor="end" font-size="23">500</text>
<text x="109.3" y="1800.7" text-anchor="end" font-size="23">1000</text>
<text x="109.3" y="1713.0" text-anchor="end" font-size="23">1500</text>
<text x="109.3" y="1625.3" text-anchor="end" font-size="23">2000</text>
<text x="109.3" y="1537.6" text-anchor="end" font-size="23">2500</text>
<text x="131.9" y="2021.0" text-anchor="middle" font-size="23">0</text>
<text x="307.2" y="2021.0" text-anchor="middle" font-size="23">10</text>
<text x="482.6" y="2021.0" text-anchor="middle" font-size="23">20</text>
<text x="655.9" y="2021.0" text-anchor="middle" font-size="23">30</text>
<text x="831.3" y="2021.0" text-anchor="middle" font-size="23">40</text>
<path d="M147.40 1968.20h0.01M160.23 1968.20h0.01M173.06 1968.20h0.01M185.89 1968.20h0.01M198.72 1968.20h0.01M211.55 1968.20h0.01M224.38 1968.20h0.01M237.21 1968.20h0.01M250.04 1968.20h0.01M262.87 1968.20h0.01M275.70 1968.20h0.01M288.53 1968.20h0.01M301.36 1968.20h0.01M314.19 1968.20h0.01M327.02 1968.20h0.01M339.85 1968.20h0.01M352.68 1968.20h0.01M365.51 1968.20h0.01M378.34 1968.20h0.01M391.17 1968.20h0.01M404.00 1968.20h0.01M416.83 1968.20h0.01M429.66 1968.20h0.01M442.49 1968.20h0.01M455.32 1968.20h0.01M468.15 1968.20h0.01M480.98 1968.20h0.01M493.81 1968.20h0.01M506.64 1968.20h0.01M519.47 1968.20h0.01M532.30 1968.20h0.01M545.13 1968.20h0.01M557.96 1968.20h0.01M570.79 1968.20h0.01M583.62 1968.20h0.01M596.45 1968.20h0.01M609.28 1968.20h0.01M622.11 1968.20h0.01M634.94 1968.20h0.01M647.77 1968.20h0.01M660.60 1968.20h0.01M673.43 1968.20h0.01M686.26 1968.20h0.01M699.09 1968.20h0.01M711.92 1968.20h0.01M724.75 1968.20h0.01M737.58 1968.20h0.01M750.41 1968.20h0.01M763.24 1968.20h0.01M776.07 1968.20h0.01M788.90 1968.20h0.01M801.73 1968.20h0.01M814.56 1968.20h0.01M827.39 1968.20h0.01M840.22 1968.20h0.01M853.05 1968.20h0.01M865.88 1968.20h0.01M878.71 1968.20h0.01M891.54 1968.20h0.01M904.37 1968.20h0.01M917.20 1968.20h0.01M930.03 1968.20h0.01M942.86 1968.20h0.01M147.40 1880.50h0.01M160.23 1880.50h0.01M173.06 1880.50h0.01M185.89 1880.50h0.01M198.72 1880.50h0.01M211.55 1880.50h0.01M224.38 1880.50h0.01M237.21 1880.50h0.01M250.04 1880.50h0.01M262.87 1880.50h0.01M275.70 1880.50h0.01M288.53 1880.50h0.01M301.36 1880.50h0.01M314.19 1880.50h0.01M327.02 1880.50h0.01M339.85 1880.50h0.01M352.68 1880.50h0.01M365.51 1880.50h0.01M378.34 1880.50h0.01M391.17 1880.50h0.01M404.00 1880.50h0.01M416.83 1880.50h0.01M429.66 1880.50h0.01M442.49 1880.50h0.01M455.32 1880.50h0.01M468.15 1880.50h0.01M480.98 1880.50h0.01M493.81 1880.50h0.01M506.64 1880.50h0.01M519.47 1880.50h0.01M532.30 1880.50h0.01M545.13 1880.50h0.01M557.96 1880.50h0.01M570.79 1880.50h0.01M583.62 1880.50h0.01M596.45 1880.50h0.01M609.28 1880.50h0.01M622.11 1880.50h0.01M634.94 1880.50h0.01M647.77 1880.50h0.01M660.60 1880.50h0.01M673.43 1880.50h0.01M686.26 1880.50h0.01M699.09 1880.50h0.01M711.92 1880.50h0.01M724.75 1880.50h0.01M737.58 1880.50h0.01M750.41 1880.50h0.01M763.24 1880.50h0.01M776.07 1880.50h0.01M788.90 1880.50h0.01M801.73 1880.50h0.01M814.56 1880.50h0.01M827.39 1880.50h0.01M840.22 1880.50h0.01M853.05 1880.50h0.01M865.88 1880.50h0.01M878.71 1880.50h0.01M891.54 1880.50h0.01M904.37 1880.50h0.01M917.20 1880.50h0.01M930.03 1880.50h0.01M942.86 1880.50h0.01M147.40 1792.80h0.01M160.23 1792.80h0.01M173.06 1792.80h0.01M185.89 1792.80h0.01M198.72 1792.80h0.01M211.55 1792.80h0.01M224.38 1792.80h0.01M237.21 1792.80h0.01M250.04 1792.80h0.01M262.87 1792.80h0.01M275.70 1792.80h0.01M288.53 1792.80h0.01M301.36 1792.80h0.01M314.19 1792.80h0.01M327.02 1792.80h0.01M339.85 1792.80h0.01M352.68 1792.80h0.01M365.51 1792.80h0.01M378.34 1792.80h0.01M391.17 1792.80h0.01M404.00 1792.80h0.01M416.83 1792.80h0.01M429.66 1792.80h0.01M442.49 1792.80h0.01M455.32 1792.80h0.01M468.15 1792.80h0.01M480.98 1792.80h0.01M493.81 1792.80h0.01M506.64 1792.80h0.01M519.47 1792.80h0.01M532.30 1792.80h0.01M545.13 1792.80h0.01M557.96 1792.80h0.01M570.79 1792.80h0.01M583.62 1792.80h0.01M596.45 1792.80h0.01M609.28 1792.80h0.01M622.11 1792.80h0.01M634.94 1792.80h0.01M647.77 1792.80h0.01M660.60 1792.80h0.01M673.43 1792.80h0.01M686.26 1792.80h0.01M699.09 1792.80h0.01M711.92 1792.80h0.01M724.75 1792.80h0.01M737.58 1792.80h0.01M750.41 1792.80h0.01M763.24 1792.80h0.01M776.07 1792.80h0.01M788.90 1792.80h0.01M801.73 1792.80h0.01M814.56 1792.80h0.01M827.39 1792.80h0.01M840.22 1792.80h0.01M853.05 1792.80h0.01M865.88 1792.80h0.01M878.71 1792.80h0.01M891.54 1792.80h0.01M904.37 1792.80h0.01M917.20 1792.80h0.01M930.03 1792.80h0.01M942.86 1792.80h0.01M147.40 1705.10h0.01M160.23 1705.10h0.01M173.06 1705.10h0.01M185.89 1705.10h0.01M198.72 1705.10h0.01M211.55 1705.10h0.01M224.38 1705.10h0.01M237.21 1705.10h0.01M250.04 1705.10h0.01M262.87 1705.10h0.01M275.70 1705.10h0.01M288.53 1705.10h0.01M301.36 1705.10h0.01M314.19 1705.10h0.01M327.02 1705.10h0.01M339.85 1705.10h0.01M352.68 1705.10h0.01M365.51 1705.10h0.01M378.34 1705.10h0.01M391.17 1705.10h0.01M404.00 1705.10h0.01M416.83 1705.10h0.01M429.66 1705.10h0.01M442.49 1705.10h0.01M455.32 1705.10h0.01M468.15 1705.10h0.01M480.98 1705.10h0.01M493.81 1705.10h0.01M506.64 1705.10h0.01M519.47 1705.10h0.01M532.30 1705.10h0.01M545.13 1705.10h0.01M557.96 1705.10h0.01M570.79 1705.10h0.01M583.62 1705.10h0.01M596.45 1705.10h0.01M609.28 1705.10h0.01M622.11 1705.10h0.01M634.94 1705.10h0.01M647.77 1705.10h0.01M660.60 1705.10h0.01M673.43 1705.10h0.01M686.26 1705.10h0.01M699.09 1705.10h0.01M711.92 1705.10h0.01M724.75 1705.10h0.01M737.58 1705.10h0.01M750.41 1705.10h0.01M763.24 1705.10h0.01M776.07 1705.10h0.01M788.90 1705.10h0.01M801.73 1705.10h0.01M814.56 1705.10h0.01M827.39 1705.10h0.01M840.22 1705.10h0.01M853.05 1705.10h0.01M865.88 1705.10h0.01M878.71 1705.10h0.01M891.54 1705.10h0.01M904.37 1705.10h0.01M917.20 1705.10h0.01M930.03 1705.10h0.01M942.86 1705.10h0.01M147.40 1617.40h0.01M160.23 1617.40h0.01M173.06 1617.40h0.01M185.89 1617.40h0.01M198.72 1617.40h0.01M211.55 1617.40h0.01M224.38 1617.40h0.01M237.21 1617.40h0.01M250.04 1617.40h0.01M262.87 1617.40h0.01M275.70 1617.40h0.01M288.53 1617.40h0.01M301.36 1617.40h0.01M314.19 1617.40h0.01M327.02 1617.40h0.01M339.85 1617.40h0.01M352.68 1617.40h0.01M365.51 1617.40h0.01M378.34 1617.40h0.01M391.17 1617.40h0.01M404.00 1617.40h0.01M416.83 1617.40h0.01M429.66 1617.40h0.01M442.49 1617.40h0.01M455.32 1617.40h0.01M468.15 1617.40h0.01M480.98 1617.40h0.01M493.81 1617.40h0.01M506.64 1617.40h0.01M519.47 1617.40h0.01M532.30 1617.40h0.01M545.13 1617.40h0.01M557.96 1617.40h0.01M570.79 1617.40h0.01M583.62 1617.40h0.01M596.45 1617.40h0.01M609.28 1617.40h0.01M622.11 1617.40h0.01M634.94 1617.40h0.01M647.77 1617.40h0.01M660.60 1617.40h0.01M673.43 1617.40h0.01M686.26 1617.40h0.01M699.09 1617.40h0.01M711.92 1617.40h0.01M724.75 1617.40h0.01M737.58 1617.40h0.01M750.41 1617.40h0.01M763.24 1617.40h0.01M776.07 1617.40h0.01M788.90 1617.40h0.01M801.73 1617.40h0.01M814.56 1617.40h0.01M827.39 1617.40h0.01M840.22 1617.40h0.01M853.05 1617.40h0.01M865.88 1617.40h0.01M878.71 1617.40h0.01M891.54 1617.40h0.01M904.37 1617.40h0.01M917.20 1617.40h0.01M930.03 1617.40h0.01M942.86 1617.40h0.01M147.40 1529.70h0.01M160.23 1529.70h0.01M173.06 1529.70h0.01M185.89 1529.70h0.01M198.72 1529.70h0.01M211.55 1529.70h0.01M224.38 1529.70h0.01M237.21 1529.70h0.01M250.04 1529.70h0.01M262.87 1529.70h0.01M275.70 1529.70h0.01M288.53 1529.70h0.01M301.36 1529.70h0.01M314.19 1529.70h0.01M327.02 1529.70h0.01M339.85 1529.70h0.01M352.68 1529.70h0.01M365.51 1529.70h0.01M378.34 1529.70h0.01M391.17 1529.70h0.01M404.00 1529.70h0.01M416.83 1529.70h0.01M429.66 1529.70h0.01M442.49 1529.70h0.01M455.32 1529.70h0.01M468.15 1529.70h0.01M480.98 1529.70h0.01M493.81 1529.70h0.01M506.64 1529.70h0.01M519.47 1529.70h0.01M532.30 1529.70h0.01M545.13 1529.70h0.01M557.96 1529.70h0.01M570.79 1529.70h0.01M583.62 1529.70h0.01M596.45 1529.70h0.01M609.28 1529.70h0.01M622.11 1529.70h0.01M634.94 1529.70h0.01M647.77 1529.70h0.01M660.60 1529.70h0.01M673.43 1529.70h0.01M686.26 1529.70h0.01M699.09 1529.70h0.01M711.92 1529.70h0.01M724.75 1529.70h0.01M737.58 1529.70h0.01M750.41 1529.70h0.01M763.24 1529.70h0.01M776.07 1529.70h0.01M788.90 1529.70h0.01M801.73 1529.70h0.01M814.56 1529.70h0.01M827.39 1529.70h0.01M840.22 1529.70h0.01M853.05 1529.70h0.01M865.88 1529.70h0.01M878.71 1529.70h0.01M891.54 1529.70h0.01M904.37 1529.70h0.01M917.20 1529.70h0.01M930.03 1529.70h0.01M942.86 1529.70h0.01M307.70 1968.28v0.01M307.70 1955.46v0.01M307.70 1942.64v0.01M307.70 1929.82v0.01M307.70 1917.00v0.01M307.70 1904.18v0.01M307.70 1891.36v0.01M307.70 1878.54v0.01M307.70 1865.72v0.01M307.70 1852.90v0.01M307.70 1840.08v0.01M307.70 1827.26v0.01M307.70 1814.44v0.01M307.70 1801.62v0.01M307.70 1788.80v0.01M307.70 1775.98v0.01M307.70 1763.16v0.01M307.70 1750.34v0.01M307.70 1737.52v0.01M307.70 1724.70v0.01M307.70 1711.88v0.01M307.70 1699.06v0.01M307.70 1686.24v0.01M307.70 1673.42v0.01M307.70 1660.60v0.01M307.70 1647.78v0.01M307.70 1634.96v0.01M307.70 1622.14v0.01M307.70 1609.32v0.01M307.70 1596.50v0.01M307.70 1583.68v0.01M307.70 1570.86v0.01M307.70 1558.04v0.01M307.70 1545.22v0.01M307.70 1532.40v0.01M307.70 1519.58v0.01M483.05 1968.28v0.01M483.05 1955.46v0.01M483.05 1942.64v0.01M483.05 1929.82v0.01M483.05 1917.00v0.01M483.05 1904.18v0.01M483.05 1891.36v0.01M483.05 1878.54v0.01M483.05 1865.72v0.01M483.05 1852.90v0.01M483.05 1840.08v0.01M483.05 1827.26v0.01M483.05 1814.44v0.01M483.05 1801.62v0.01M483.05 1788.80v0.01M483.05 1775.98v0.01M483.05 1763.16v0.01M483.05 1750.34v0.01M483.05 1737.52v0.01M483.05 1724.70v0.01M483.05 1711.88v0.01M483.05 1699.06v0.01M483.05 1686.24v0.01M483.05 1673.42v0.01M483.05 1660.60v0.01M483.05 1647.78v0.01M483.05 1634.96v0.01M483.05 1622.14v0.01M483.05 1609.32v0.01M483.05 1596.50v0.01M483.05 1583.68v0.01M483.05 1570.86v0.01M483.05 1558.04v0.01M483.05 1545.22v0.01M483.05 1532.40v0.01M483.05 1519.58v0.01M656.40 1966.28v0.01M656.40 1953.46v0.01M656.40 1940.64v0.01M656.40 1927.82v0.01M656.40 1915.00v0.01M656.40 1902.18v0.01M656.40 1889.36v0.01M656.40 1876.54v0.01M656.40 1863.72v0.01M656.40 1850.90v0.01M656.40 1838.08v0.01M656.40 1825.26v0.01M656.40 1812.44v0.01M656.40 1799.62v0.01M656.40 1786.80v0.01M656.40 1773.98v0.01M656.40 1761.16v0.01M656.40 1748.34v0.01M656.40 1735.52v0.01M656.40 1722.70v0.01M656.40 1709.88v0.01M656.40 1697.06v0.01M656.40 1684.24v0.01M656.40 1671.42v0.01M656.40 1658.60v0.01M656.40 1645.78v0.01M656.40 1632.96v0.01M656.40 1620.14v0.01M656.40 1607.32v0.01M656.40 1594.50v0.01M656.40 1581.68v0.01M656.40 1568.86v0.01M656.40 1556.04v0.01M656.40 1543.22v0.01M656.40 1530.40v0.01M656.40 1517.58v0.01M831.80 1968.28v0.01M831.80 1955.46v0.01M831.80 1942.64v0.01M831.80 1929.82v0.01M831.80 1917.00v0.01M831.80 1904.18v0.01M831.80 1891.36v0.01M831.80 1878.54v0.01M831.80 1865.72v0.01M831.80 1852.90v0.01M831.80 1840.08v0.01M831.80 1827.26v0.01M831.80 1814.44v0.01M831.80 1801.62v0.01M831.80 1788.80v0.01M831.80 1775.98v0.01M831.80 1763.16v0.01M831.80 1750.34v0.01M831.80 1737.52v0.01M831.80 1724.70v0.01M831.80 1711.88v0.01M831.80 1699.06v0.01M831.80 1686.24v0.01M831.80 1673.42v0.01M831.80 1660.60v0.01M831.80 1647.78v0.01M831.80 1634.96v0.01M831.80 1622.14v0.01M831.80 1609.32v0.01M831.80 1596.50v0.01M831.80 1583.68v0.01M831.80 1570.86v0.01M831.80 1558.04v0.01M831.80 1545.22v0.01M831.80 1532.40v0.01M831.80 1519.58v0.01" stroke="#454545" stroke-width="2.7" stroke-linecap="round" fill="none"/>
<path d="M125.10 1968.20H141.80M947.80 1968.20H957.80M129.40 1950.66H137.70M952.40 1950.66H957.80M129.40 1933.12H137.70M952.40 1933.12H957.80M129.40 1915.58H137.70M952.40 1915.58H957.80M129.40 1898.04H137.70M952.40 1898.04H957.80M125.10 1880.50H141.80M947.80 1880.50H957.80M129.40 1862.96H137.70M952.40 1862.96H957.80M129.40 1845.42H137.70M952.40 1845.42H957.80M129.40 1827.88H137.70M952.40 1827.88H957.80M129.40 1810.34H137.70M952.40 1810.34H957.80M125.10 1792.80H141.80M947.80 1792.80H957.80M129.40 1775.26H137.70M952.40 1775.26H957.80M129.40 1757.72H137.70M952.40 1757.72H957.80M129.40 1740.18H137.70M952.40 1740.18H957.80M129.40 1722.64H137.70M952.40 1722.64H957.80M125.10 1705.10H141.80M947.80 1705.10H957.80M129.40 1687.56H137.70M952.40 1687.56H957.80M129.40 1670.02H137.70M952.40 1670.02H957.80M129.40 1652.48H137.70M952.40 1652.48H957.80M129.40 1634.94H137.70M952.40 1634.94H957.80M125.10 1617.40H141.80M947.80 1617.40H957.80M129.40 1599.86H137.70M952.40 1599.86H957.80M129.40 1582.32H137.70M952.40 1582.32H957.80M129.40 1564.78H137.70M952.40 1564.78H957.80M129.40 1547.24H137.70M952.40 1547.24H957.80M125.10 1529.70H141.80M947.80 1529.70H957.80M129.40 1512.16H137.70M952.40 1512.16H957.80M167.46 1976.10V1986.30M167.46 1500.00V1505.00M202.52 1976.10V1986.30M202.52 1500.00V1505.00M237.58 1976.10V1986.30M237.58 1500.00V1505.00M272.64 1976.10V1986.30M272.64 1500.00V1505.00M307.70 1971.60V1990.60M307.70 1500.00V1509.20M342.77 1976.10V1986.30M342.77 1500.00V1505.00M377.84 1976.10V1986.30M377.84 1500.00V1505.00M412.91 1976.10V1986.30M412.91 1500.00V1505.00M447.98 1976.10V1986.30M447.98 1500.00V1505.00M483.05 1971.60V1990.60M483.05 1500.00V1509.20M517.72 1976.10V1986.30M517.72 1500.00V1505.00M552.39 1976.10V1986.30M552.39 1500.00V1505.00M587.06 1976.10V1986.30M587.06 1500.00V1505.00M621.73 1976.10V1986.30M621.73 1500.00V1505.00M656.40 1971.60V1990.60M656.40 1500.00V1509.20M691.48 1976.10V1986.30M691.48 1500.00V1505.00M726.56 1976.10V1986.30M726.56 1500.00V1505.00M761.64 1976.10V1986.30M761.64 1500.00V1505.00M796.72 1976.10V1986.30M796.72 1500.00V1505.00M831.80 1971.60V1990.60M831.80 1500.00V1509.20M866.80 1976.10V1986.30M866.80 1500.00V1505.00M901.80 1976.10V1986.30M901.80 1500.00V1505.00M936.80 1976.10V1986.30M936.80 1500.00V1505.00M132.40 1501.20V1987.50M133.80 1500.00H957.80V1981.10H132.40" stroke="#141414" stroke-width="2.1" fill="none"/>
<g clip-path="url(#clip2)">
<polyline points="149.93,1954.17 167.46,1957.15 184.99,1960.31 202.52,1962.06 220.05,1963.34 237.58,1964.34 255.11,1965.11 272.64,1965.74 290.17,1966.30 307.70,1966.80 325.24,1967.29 342.77,1967.67 360.31,1967.92 377.84,1968.12 395.38,1968.20 412.91,1968.20 430.45,1968.20 447.98,1968.20 465.51,1968.03 483.05,1967.67 500.38,1967.19 517.72,1966.45 535.06,1965.04 552.39,1963.64 569.73,1963.29 587.06,1963.29 604.39,1964.69 621.73,1966.80 639.06,1968.55 656.40,1968.73 673.94,1968.73 691.48,1968.55 709.02,1969.08 726.56,1969.95 744.10,1970.13 761.64,1968.73 779.18,1966.80 796.72,1964.87 814.26,1967.32 831.80,1967.85 849.30,1967.15 866.80,1966.45 884.30,1967.15 901.80,1967.67 919.30,1967.85" fill="none" stroke="#b440b8" stroke-width="2.0" stroke-linejoin="round" stroke-linecap="round" opacity="1.0"/>
<polyline points="149.93,1970.66 167.46,1969.95 184.99,1968.90 202.52,1967.85 220.05,1967.51 237.58,1967.32 255.11,1967.19 272.64,1967.08 290.17,1967.00 307.70,1966.97 325.24,1966.98 342.77,1967.02 360.31,1967.06 377.84,1967.11 395.38,1967.15 412.91,1967.19 430.45,1967.23 447.98,1967.28 465.51,1967.31 483.05,1967.32 500.38,1966.80 517.72,1965.74 535.06,1964.34 552.39,1961.53 569.73,1955.04 587.06,1935.75 604.39,1902.42 621.73,1837.53 639.06,1772.63 656.40,1718.61 673.94,1672.48 691.48,1638.45 709.02,1608.63 726.56,1587.76 744.10,1571.45 761.64,1560.04 779.18,1552.50 796.72,1546.71 814.26,1542.50 831.80,1539.35 849.30,1536.72 866.80,1533.56 884.30,1530.23 901.80,1526.89 919.30,1523.39" fill="none" stroke="#2828ff" stroke-width="2.0" stroke-linejoin="round" stroke-linecap="round" opacity="1.0"/>
<polyline points="149.93,1949.96 167.46,1957.15 184.99,1960.31 202.52,1962.06 220.05,1963.34 237.58,1964.34 255.11,1965.11 272.64,1965.74 290.17,1966.29 307.70,1966.80 325.24,1967.36 342.77,1967.85 360.31,1968.21 377.84,1968.51 395.38,1968.73 412.91,1968.89 430.45,1969.02 447.98,1969.08 465.51,1968.90 483.05,1968.55 500.38,1968.18 517.72,1967.67 535.06,1966.80 552.39,1965.04 569.73,1961.18 587.06,1954.17 604.39,1933.47 621.73,1887.17 639.06,1862.08 656.40,1837.53 673.94,1819.99 691.48,1805.60 709.02,1794.55 726.56,1784.91 744.10,1776.14 761.64,1767.72 779.18,1760.18 796.72,1752.46 814.26,1744.92 831.80,1737.02 849.30,1726.50 866.80,1713.87 884.30,1698.26 901.80,1682.65 919.30,1668.09" fill="none" stroke="#ff3030" stroke-width="2.0" stroke-linejoin="round" stroke-linecap="round" opacity="1.0"/>
<polyline points="149.93,1954.17 167.46,1957.15 184.99,1960.31 202.52,1962.06 220.05,1963.34 237.58,1964.34 255.11,1965.11 272.64,1965.74 290.17,1966.30 307.70,1966.80 325.24,1967.29 342.77,1967.67 360.31,1967.89 377.84,1968.06 395.38,1968.20 412.91,1968.35 430.45,1968.49 447.98,1968.55 465.51,1968.44 483.05,1968.20 500.38,1967.81 517.72,1967.15 535.06,1965.74 552.39,1962.59 569.73,1957.33 587.06,1944.52 604.39,1921.19 621.73,1887.87 639.06,1859.98 656.40,1835.77 673.94,1809.11 691.48,1787.54 709.02,1771.40 726.56,1758.42 744.10,1749.30 761.64,1741.76 779.18,1735.27 796.72,1729.31 814.26,1724.74 831.80,1720.54 849.30,1715.62 866.80,1711.06 884.30,1706.85 901.80,1703.00 919.30,1699.31" fill="none" stroke="#22a84a" stroke-width="2.0" stroke-linejoin="round" stroke-linecap="round" opacity="1.0"/>
</g>
<rect x="150.2" y="1935.50" width="768.6" height="4" fill="#ff0000"/>
<rect x="150.2" y="1939.40" width="768.6" height="4.4" fill="#007a00"/>
<rect x="150.2" y="1943.80" width="768.6" height="2" fill="#8a1a8a"/>
<text x="468.0" y="2135.7" font-family="Liberation Serif" font-size="51">(</text>
<text x="484.2" y="2135.7" font-family="Liberation Serif" font-weight="bold" font-size="52">c</text>
<text x="506.2" y="2135.7" font-family="Liberation Serif" font-size="51">)</text>
</g>
</svg>
</body></html>
